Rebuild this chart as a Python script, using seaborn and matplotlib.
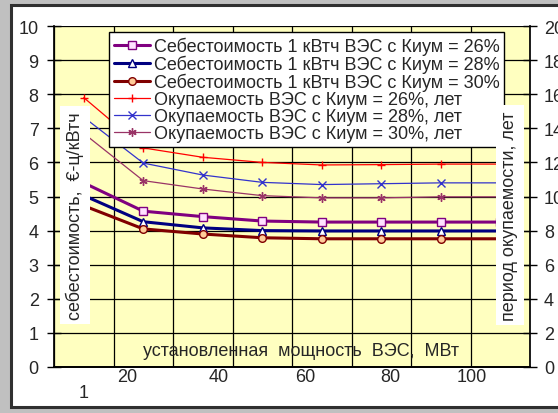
import numpy as np
import pandas as pd
import matplotlib
matplotlib.use("Agg")
import matplotlib.pyplot as plt
from matplotlib.patches import Rectangle
from matplotlib.lines import Line2D
import seaborn as sns

# ---------------- data ----------------
point = [0, 1, 2, 3, 4, 5, 6, 7]            # category index of each computed point
cost_26 = [5.40, 4.57, 4.41, 4.28, 4.25, 4.25, 4.25, 4.25]
cost_28 = [5.03, 4.26, 4.08, 4.00, 3.99, 3.99, 3.99, 3.99]
cost_30 = [4.73, 4.05, 3.90, 3.79, 3.76, 3.76, 3.76, 3.76]
pay_26 = [15.8, 12.85, 12.3, 12.0, 11.85, 11.87, 11.9, 11.9]
pay_28 = [14.65, 11.96, 11.26, 10.83, 10.70, 10.75, 10.8, 10.8]
pay_30 = [13.7, 10.93, 10.44, 10.05, 9.92, 9.92, 9.98, 9.98]
xtick_labels = ["20", "40", "60", "80", "100"]
xtick_pos = [0.73, 2.27, 3.72, 5.15, 6.52]
first_label = "1"

cost_names = ["Себестоимость 1 кВтч ВЭС с Киум = 26%",
              "Себестоимость 1 кВтч ВЭС с Киум = 28%",
              "Себестоимость 1 кВтч ВЭС с Киум = 30%"]
pay_names = ["Окупаемость ВЭС с Киум = 26%, лет",
             "Окупаемость ВЭС с Киум = 28%, лет",
             "Окупаемость ВЭС с Киум = 30%, лет"]

sns.set_theme(style="white")
plt.rcParams['font.family'] = ['Liberation Sans', 'DejaVu Sans']
FS = 13

fig = plt.figure(figsize=(5.58, 4.14), dpi=100)
fig.patch.set_facecolor('#C0C0C0')
fig.patches.append(Rectangle((11/558, 1-408/414), 1.0, (408-6)/414, transform=fig.transFigure,
                             facecolor='white', edgecolor='#303030', linewidth=2.2, zorder=-10))

ax = fig.add_axes([54/558, 1-368/414, (530-54)/558, (368-27)/414])
ax.set_facecolor('#FFFFC0')
ax2 = ax.twinx()
ax2.patch.set_visible(False)

df = pd.DataFrame({"point": point})

cost_cols = ['#800080', '#000080', '#800000']
cost_mk = ['s', '^', 'o']
cost_face = ['#FFE0FF', 'white', '#FFCC99']
for vals, name, c, m, fcol in zip([cost_26, cost_28, cost_30], cost_names, cost_cols, cost_mk, cost_face):
    sns.lineplot(x=df["point"], y=vals, ax=ax, color=c, linewidth=2.2, marker=m,
                 markersize=5.5, markerfacecolor=fcol, markeredgecolor=c, markeredgewidth=1.0,
                 legend=False, zorder=3)

pay_cols = ['#FF0000', '#3333CC', '#993366']
pay_mk = ['+', 'x', (6, 2, 0)]
for vals, name, c, m in zip([pay_26, pay_28, pay_30], pay_names, pay_cols, pay_mk):
    sns.lineplot(x=df["point"], y=vals, ax=ax2, color=c, linewidth=0.9, marker=m,
                 markersize=6, markeredgecolor=c, markeredgewidth=1.0,
                 legend=False, zorder=3)

ax.set_xlim(-0.5, 7.5)
ax.set_ylim(0, 10)
ax2.set_ylim(0, 20)
ax.set_yticks(np.arange(0, 11, 1))
ax2.set_yticks(np.arange(0, 21, 2))
ax.set_xticks(np.arange(-0.5, 8.0, 1.0))
ax.set_xticklabels([])
ax.set_xticks(xtick_pos, minor=True)
ax.set_xticklabels(xtick_labels, minor=True, fontsize=FS)
ax.tick_params(axis='x', which='minor', length=0, pad=1.0)
ax.tick_params(axis='x', which='major', direction='inout', length=10, width=1, color='black')
ax.tick_params(axis='y', direction='inout', length=10, width=1, color='black', labelsize=FS, pad=6.0, left=True)
ax2.tick_params(axis='y', direction='inout', length=10, width=1, color='black', labelsize=FS, pad=5.0, right=True)
ax.text(0.0, -0.05, first_label, transform=ax.get_xaxis_transform(), ha='center', va='top', fontsize=FS)

ax.set_xlabel(""); ax.set_ylabel(""); ax2.set_xlabel(""); ax2.set_ylabel("")
ax.grid(True, which='major', axis='both', color='black', linewidth=0.9)
ax.set_axisbelow(True)
for a in (ax, ax2):
    for s in ['top', 'right']:
        a.spines[s].set_visible(False)
    a.spines['left'].set_color('black')
    a.spines['bottom'].set_color('black')
ax2.spines['left'].set_visible(False)
ax2.spines['right'].set_visible(True)
ax2.spines['right'].set_color('black')

fig.text(301/558, 1-352/414, "установленная  мощность  ВЭС,  МВт",
         ha='center', va='center', fontsize=FS, zorder=1)

fig.text(75/558, 1-216/414, "себестоимость,  €-ц/кВтч", rotation=90, ha='center', va='center',
         fontsize=FS, zorder=5, bbox=dict(facecolor='white', edgecolor='none', pad=4))
fig.text(510/558, 1-216/414, "период окупаемости, лет", rotation=90, ha='center', va='center',
         fontsize=FS, zorder=5, bbox=dict(facecolor='white', edgecolor='none', pad=4))

handles = []
for name, c, m, fcol in zip(cost_names, cost_cols, cost_mk, cost_face):
    handles.append(Line2D([], [], color=c, linewidth=2.2, marker=m, markersize=5.5,
                          markerfacecolor=fcol, markeredgecolor=c, label=name))
for name, c, m in zip(pay_names, pay_cols, pay_mk):
    handles.append(Line2D([], [], color=c, linewidth=0.9, marker=m, markersize=6,
                          markeredgecolor=c, label=name))
leg = ax2.legend(handles=handles, loc='upper left', bbox_to_anchor=(109/558, 1-33/414),
                 bbox_transform=fig.transFigure, fontsize=FS, labelspacing=0.0,
                 handlelength=2.0, handletextpad=0.25, borderpad=0.25, borderaxespad=0,
                 fancybox=False, framealpha=1, edgecolor='black')
leg.get_frame().set_linewidth(1.0)
leg.set_zorder(10)

fig.savefig("out.png", dpi=100, facecolor=fig.get_facecolor())
